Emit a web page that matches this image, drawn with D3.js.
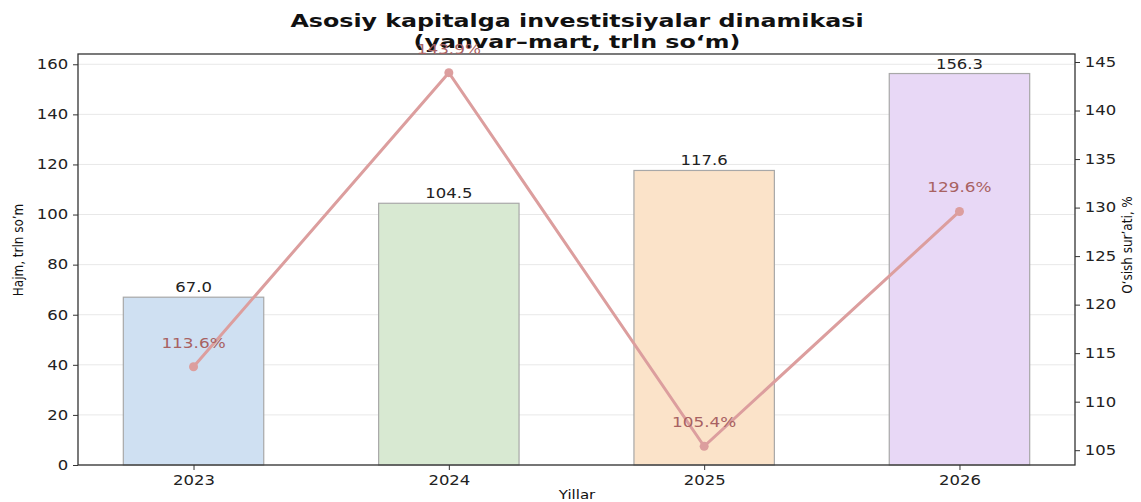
<!DOCTYPE html>
<html lang="en">
<head>
  <meta charset="UTF-8">
  <title>Asosiy kapitalga investitsiyalar dinamikasi</title>
  <style>
    body { margin: 0; background: #fff; }
    text { font-family: "DejaVu Sans", sans-serif; }
  </style>
  <script src="https://cdn.jsdelivr.net/npm/d3@7"></script>
</head>
<body>
<div class="main"></div>
<script>

var years = ["2023", "2024", "2025", "2026"];
var volume = [67.0, 104.5, 117.6, 156.3];
var growth = [113.6, 143.9, 105.4, 129.6];
var barColors = ["#cfe0f2", "#d8e9d2", "#fbe3c9", "#e8d8f6"];
var leftTicks = [0, 20, 40, 60, 80, 100, 120, 140, 160];
var rightTicks = [105, 110, 115, 120, 125, 130, 135, 140, 145];

var width = 1141, height = 502;
var margin = {top: 54, right: 66, bottom: 37, left: 78};
var w = width - margin.left - margin.right,
    h = height - margin.top - margin.bottom;

// the original picture is stretched sideways, so texts get a wider x scale
var SX = 1.22;

var svg = d3.select(".main").append("svg")
    .attr("width", width)
    .attr("height", height);

function place(px, py, sx) {
  return "translate(" + px + "," + py + ") scale(" + sx + ",1)";
}

// title first, so the top percent label is drawn over it as in the original
svg.append("text")
    .attr("transform", place(577, 27, 1.32))
    .attr("text-anchor", "middle")
    .attr("font-size", 18)
    .attr("font-weight", "bold")
    .attr("fill", "#111")
    .text("Asosiy kapitalga investitsiyalar dinamikasi");

svg.append("text")
    .attr("transform", place(577, 48, 1.32))
    .attr("text-anchor", "middle")
    .attr("font-size", 18)
    .attr("font-weight", "bold")
    .attr("fill", "#111")
    .text("(yanvar\u2013mart, trln so\u2018m)");

var g = svg.append("g")
    .attr("transform", "translate(" + margin.left + "," + margin.top + ")");

// bars sit on integer positions, width 0.55, matplotlib-like 5% padding
var x = d3.scaleLinear().domain([-0.4525, 3.4525]).range([0, w]);
var y = d3.scaleLinear().domain([0, 164.1]).range([h, 0]);
var y2 = d3.scaleLinear().domain([103.475, 145.825]).range([h, 0]);

// grid
g.selectAll(".grid").data(leftTicks).enter().append("line")
    .attr("x1", 0).attr("x2", w)
    .attr("y1", d => y(d)).attr("y2", d => y(d))
    .attr("stroke", "#e8e8e8").attr("stroke-width", 1);

// bars
var bw = x(0.275) - x(0);
g.selectAll(".bar").data(volume).enter().append("rect")
    .attr("x", (d, i) => x(i) - bw)
    .attr("y", d => y(d))
    .attr("width", bw * 2)
    .attr("height", d => h - y(d))
    .attr("fill", (d, i) => barColors[i])
    .attr("stroke", "#a8a8a8")
    .attr("stroke-width", 1.2);

g.selectAll(".vlab").data(volume).enter().append("text")
    .attr("transform", (d, i) => place(x(i), y(d) - 5, SX))
    .attr("text-anchor", "middle")
    .attr("font-size", 13.5)
    .attr("fill", "#222")
    .text(d => d.toFixed(1));

// axes
var xAxis = d3.axisBottom(x).tickValues([0, 1, 2, 3])
    .tickFormat(i => years[i]).tickSize(5).tickPadding(5);
var yAxis = d3.axisLeft(y).tickValues(leftTicks).tickSize(5).tickPadding(3);
var yAxis2 = d3.axisRight(y2).tickValues(rightTicks).tickSize(5).tickPadding(3);

function style(sel) {
  sel.select(".domain").remove();
  sel.selectAll("line").attr("stroke", "#333");
  sel.selectAll("text").attr("font-size", 13.5).attr("fill", "#222")
      .attr("font-family", "DejaVu Sans")
      .attr("transform", "scale(" + SX + ",1)");
}

g.append("g").attr("transform", "translate(0," + h + ")").call(xAxis).call(style);
g.append("g").call(yAxis).call(style);
g.append("g").attr("transform", "translate(" + w + ",0)").call(yAxis2).call(style);

// frame
g.append("rect").attr("width", w).attr("height", h)
    .attr("fill", "none").attr("stroke", "#333").attr("stroke-width", 1.3);

// growth line
var line = d3.line().x((d, i) => x(i)).y(d => y2(d));
g.append("path").datum(growth)
    .attr("d", line)
    .attr("fill", "none")
    .attr("stroke", "#dc9e9e")
    .attr("stroke-width", 3);

g.selectAll(".pt").data(growth).enter().append("circle")
    .attr("cx", (d, i) => x(i))
    .attr("cy", d => y2(d))
    .attr("r", 4.5)
    .attr("fill", "#dc9e9e");

g.selectAll(".plab").data(growth).enter().append("text")
    .attr("transform", (d, i) => place(x(i), y2(d) - 19, 1.25))
    .attr("text-anchor", "middle")
    .attr("font-size", 13.5)
    .attr("fill", "#a86262")
    .text(d => d.toFixed(1) + "%");

// axis titles
svg.append("text")
    .attr("transform", "translate(23,250) rotate(-90) scale(1,1.2)")
    .attr("text-anchor", "middle")
    .attr("font-family", "Open Sans")
    .attr("font-size", 12)
    .attr("fill", "#111")
    .text("Hajm, trln so\u02bcm");

svg.append("text")
    .attr("transform", "translate(1132,245) rotate(-90) scale(1,1.2)")
    .attr("text-anchor", "middle")
    .attr("font-family", "Open Sans")
    .attr("font-size", 12)
    .attr("fill", "#111")
    .text("O\u2018sish sur\u02bcati, %");

svg.append("text")
    .attr("transform", place(577, 499, 1.2))
    .attr("text-anchor", "middle")
    .attr("font-family", "Open Sans")
    .attr("font-size", 12.5)
    .attr("fill", "#111")
    .text("Yillar");

</script>
</body>
</html>
